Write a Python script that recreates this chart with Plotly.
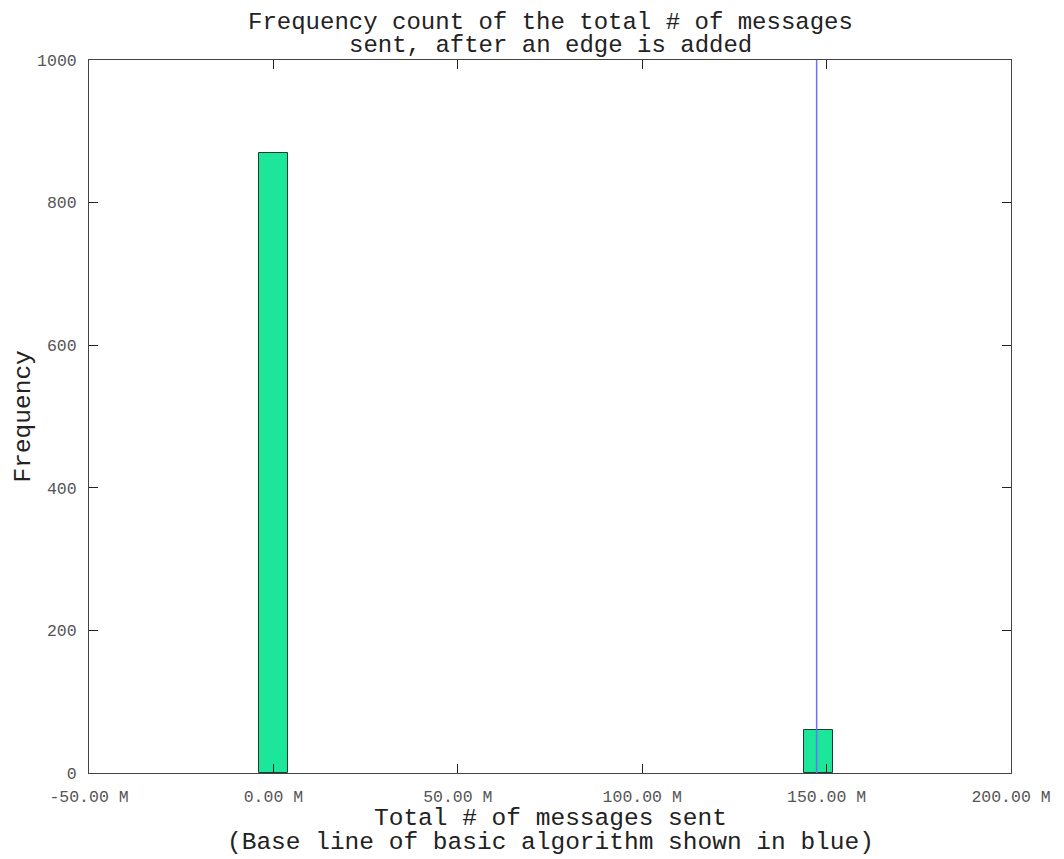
import plotly.graph_objects as go

# Data
bin_centers = [0.0, 147.7e6]
bin_counts = [870, 60]
bin_width = 7.8e6
baseline_messages = 147.3e6

x_tick_vals = [-50e6, 0, 50e6, 100e6, 150e6, 200e6]
x_tick_text = ["-50.00 M", "0.00 M", "50.00 M", "100.00 M", "150.00 M", "200.00 M"]
y_tick_vals = [0, 200, 400, 600, 800, 1000]

FONT = "Courier New, Liberation Mono, monospace"

fig = go.Figure()
fig.add_trace(go.Bar(
    x=bin_centers, y=bin_counts, width=[bin_width] * len(bin_centers),
    marker=dict(color="rgb(27,230,154)", line=dict(color="#1d3d30", width=1)),
    showlegend=False,
))
fig.add_trace(go.Scatter(
    x=[baseline_messages, baseline_messages], y=[0, 1000], mode="lines",
    line=dict(color="rgb(110,110,255)", width=1.5), showlegend=False,
))

fig.update_layout(
    width=1056, height=851,
    margin=dict(l=81, r=53, t=52, b=86),
    paper_bgcolor="white", plot_bgcolor="white",
    font=dict(family=FONT, color="#333"),
    bargap=0,
)
fig.add_annotation(text="Frequency count of the total # of messages", xref="paper", yref="paper",
                   x=0.5, y=1.0, yshift=38, showarrow=False, yanchor="middle",
                   font=dict(size=24, color="#222", family=FONT))
fig.add_annotation(text="sent, after an edge is added", xref="paper", yref="paper",
                   x=0.5, y=1.0, yshift=15, showarrow=False, yanchor="middle",
                   font=dict(size=24, color="#222", family=FONT))
fig.add_annotation(text="Total # of messages sent", xref="paper", yref="paper",
                   x=0.5, y=0.0, yshift=-45, showarrow=False, yanchor="middle",
                   font=dict(size=24.5, color="#222", family=FONT))
fig.add_annotation(text="(Base line of basic algorithm shown in blue)", xref="paper", yref="paper",
                   x=0.5, y=0.0, yshift=-69, showarrow=False, yanchor="middle",
                   font=dict(size=24.5, color="#222", family=FONT))
fig.add_annotation(text="Frequency", xref="paper", yref="paper", textangle=-90,
                   x=0.0, xshift=-66, y=0.5, showarrow=False, xanchor="center",
                   font=dict(size=24.5, color="#222", family=FONT))

fig.update_xaxes(
    range=[-50e6, 200e6], tickvals=x_tick_vals, ticktext=x_tick_text,
    showgrid=False, zeroline=False, showline=True, linecolor="#444", linewidth=1,
    mirror="ticks", ticks="inside", ticklen=9, tickcolor="#222",
    tickfont=dict(size=16.5, color="#555", family=FONT),
    ticklabelstandoff=8, automargin=False,
)
fig.update_yaxes(
    range=[0, 1000], tickvals=y_tick_vals,
    showgrid=False, zeroline=False, showline=True, linecolor="#444", linewidth=1,
    mirror="ticks", ticks="inside", ticklen=9, tickcolor="#222",
    tickfont=dict(size=16.5, color="#555", family=FONT),
    ticklabelstandoff=8, automargin=False,
)

fig.write_html("out.html")
